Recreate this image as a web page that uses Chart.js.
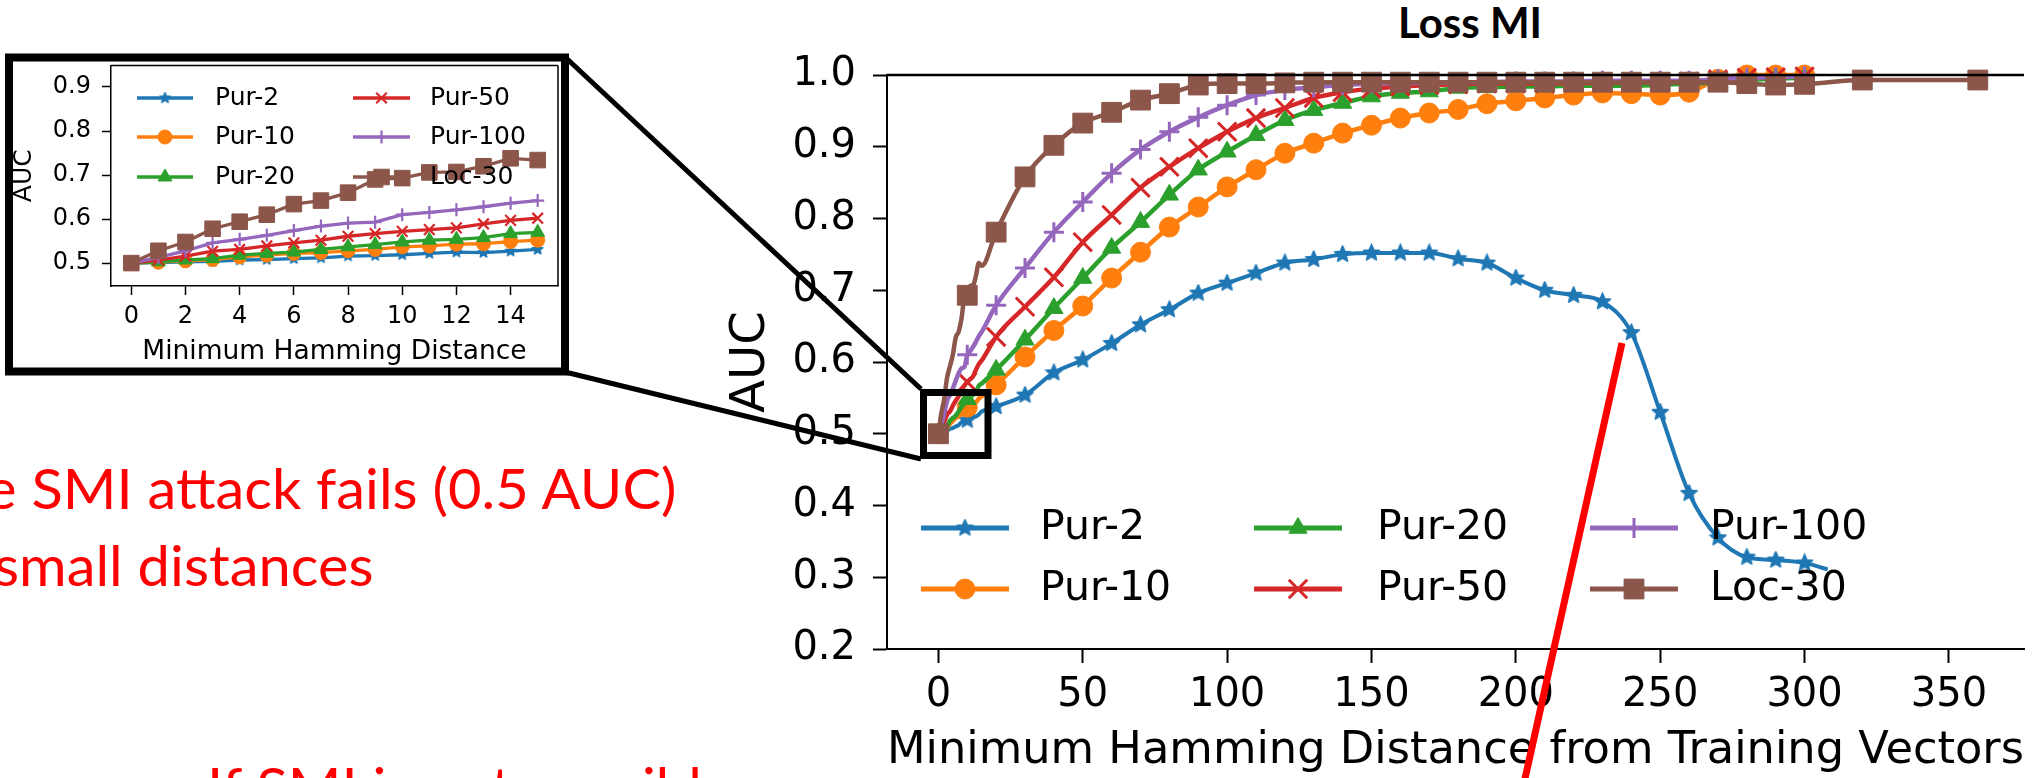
<!DOCTYPE html>
<html lang="en">
   <head>
      <meta charset="UTF-8" />
      <script src="https://cdn.jsdelivr.net/npm/chart.js@4.4.1/dist/chart.umd.min.js"></script>
      <title>Loss MI</title>
      <style>
         body {
            margin: 0;
            width: 2040px;
            height: 778px;
            overflow: hidden;
            background: #fff;
            position: relative;
         }
         canvas,
         svg {
            position: absolute;
         }
         #main-chart {
            left: 700px;
            top: 0;
            width: 1340px;
            height: 778px;
         }
         #inset-chart {
            left: 0;
            top: 40px;
            width: 580px;
            height: 330px;
         }
         .slide-text {
            position: absolute;
            font-family: Lato, sans-serif;
            color: #ff0000;
            font-size: 56px;
            line-height: 1;
            white-space: nowrap;
            transform-origin: 0 0;
         }
         #title {
            position: absolute;
            left: 1370px;
            top: 1px;
            width: 200px;
            text-align: center;
            font-family: Lato, sans-serif;
            font-weight: bold;
            font-size: 42px;
            line-height: 1;
         }
      </style>
   </head>
   <body>
      <div id="title">Loss MI</div>
      <div id="line1" class="slide-text" style="top: 460px">e <span id="fit-ref">SMI attack fails (0.5 AUC)</span></div>
      <div id="line2" class="slide-text" style="top: 537px">small distances</div>
      <div id="line3" class="slide-text" style="top: 759px; left: 207px">If SMI is not possible</div>

      <canvas id="inset-chart" width="580" height="330"></canvas>
      <canvas id="main-chart" width="1340" height="778"></canvas>

      <svg width="2040" height="778" style="left: 0; top: 0">
         <rect x="9" y="57.5" width="556" height="314" fill="none" stroke="#000" stroke-width="8" />
         <line x1="565" y1="57" x2="921" y2="389" stroke="#000" stroke-width="5" />
         <line x1="565" y1="372" x2="921" y2="459" stroke="#000" stroke-width="5" />
         <rect x="923.5" y="392.5" width="64.5" height="63" fill="none" stroke="#000" stroke-width="7" />
         <line x1="1622" y1="343" x2="1518" y2="810" stroke="#ff0000" stroke-width="7" />
      </svg>

      <script>
         // series names / colours (matplotlib tab10)
         const seriesNames = ['Pur-2', 'Pur-10', 'Pur-20', 'Pur-50', 'Pur-100', 'Loc-30'];
         const seriesColors = ['#1f77b4', '#ff7f0e', '#2ca02c', '#d62728', '#9467bd', '#8c564b'];

         // minimum hamming distance 0..15 (inset and start of main plot)
         const nearX = [0, 1, 2, 3, 4, 5, 6, 7, 8, 9, 10, 11, 12, 13, 14, 15];
         const pur2Near = [0.500, 0.501, 0.503, 0.504, 0.507, 0.508, 0.510, 0.512, 0.516, 0.517, 0.519, 0.522, 0.525, 0.524, 0.527, 0.531];
         const pur10Near = [0.500, 0.502, 0.505, 0.508, 0.514, 0.518, 0.522, 0.524, 0.528, 0.531, 0.537, 0.539, 0.543, 0.544, 0.549, 0.552];
         const pur20Near = [0.500, 0.503, 0.507, 0.510, 0.518, 0.522, 0.525, 0.531, 0.537, 0.542, 0.548, 0.552, 0.554, 0.558, 0.567, 0.570];
         const pur50Near = [0.500, 0.507, 0.516, 0.527, 0.531, 0.539, 0.546, 0.552, 0.561, 0.567, 0.572, 0.576, 0.580, 0.589, 0.597, 0.602];
         const pur100Near = [0.500, 0.513, 0.528, 0.546, 0.554, 0.563, 0.574, 0.584, 0.591, 0.593, 0.610, 0.615, 0.621, 0.628, 0.636, 0.642];
         const loc30Near = [0.500, 0.528, 0.548, 0.578, 0.594, 0.610, 0.634, 0.642, 0.660, 0.690, 0.693, 0.706, 0.707, 0.720, 0.738, 0.734];

         // distance 20 and up (main plot)
         const farX = [20, 30, 40, 50, 60, 70, 80, 90, 100, 110, 120, 130, 140, 150, 160, 170, 180, 190, 200, 210, 220, 230, 240, 250, 260, 270, 280, 290, 300];
         const pur2FarX = farX.concat([308]);
         const loc30FarX = farX.concat([320, 360]);
         const pur2Far = [0.538, 0.554, 0.585, 0.603, 0.626, 0.652, 0.673, 0.696, 0.710, 0.724, 0.738, 0.743, 0.750, 0.752, 0.752, 0.752, 0.744, 0.738, 0.717, 0.700, 0.693, 0.684, 0.641, 0.530, 0.417, 0.355, 0.328, 0.324, 0.320, 0.311];
         const pur10Far = [0.568, 0.607, 0.644, 0.678, 0.717, 0.753, 0.788, 0.816, 0.844, 0.868, 0.891, 0.905, 0.919, 0.930, 0.940, 0.947, 0.952, 0.960, 0.964, 0.968, 0.972, 0.975, 0.974, 0.972, 0.976, 0.994, 1.000, 1.000, 1.000];
         const pur20Far = [0.589, 0.631, 0.675, 0.717, 0.759, 0.795, 0.833, 0.868, 0.893, 0.916, 0.937, 0.951, 0.961, 0.970, 0.975, 0.977, 0.982, 0.983, 0.984, 0.984, 0.985, 0.985, 0.985, 0.986, 0.988, 0.990, 0.993, 0.995, 0.996];
         const pur50Far = [0.635, 0.677, 0.718, 0.767, 0.805, 0.843, 0.872, 0.898, 0.921, 0.940, 0.954, 0.968, 0.976, 0.981, 0.984, 0.986, 0.987, 0.988, 0.988, 0.988, 0.989, 0.989, 0.990, 0.990, 0.991, 0.994, 0.996, 0.997, 0.998];
         const pur100Far = [0.679, 0.731, 0.781, 0.823, 0.863, 0.896, 0.921, 0.941, 0.958, 0.972, 0.979, 0.983, 0.986, 0.988, 0.989, 0.989, 0.990, 0.990, 0.991, 0.991, 0.991, 0.992, 0.992, 0.992, 0.992, 0.994, 0.996, 0.997, 0.998];
         const loc30Far = [0.781, 0.858, 0.902, 0.933, 0.948, 0.965, 0.974, 0.986, 0.988, 0.988, 0.989, 0.990, 0.990, 0.990, 0.990, 0.990, 0.990, 0.990, 0.990, 0.990, 0.990, 0.990, 0.990, 0.990, 0.990, 0.990, 0.988, 0.986, 0.987, 0.993, 0.993];

         // tick labels
         const mainXTicks = [0, 50, 100, 150, 200, 250, 300, 350];
         const mainYTicks = [0.2, 0.3, 0.4, 0.5, 0.6, 0.7, 0.8, 0.9, 1.0];
         const insetXTicks = [0, 2, 4, 6, 8, 10, 12, 14];
         const insetYTicks = [0.5, 0.6, 0.7, 0.8, 0.9];

         const nearY = [pur2Near, pur10Near, pur20Near, pur50Near, pur100Near, loc30Near];
         const mainXs = [pur2FarX, farX, farX, farX, farX, loc30FarX].map(f => nearX.concat(f));
         const mainYs = [
            pur2Near.concat(pur2Far),
            pur10Near.concat(pur10Far),
            pur20Near.concat(pur20Far),
            pur50Near.concat(pur50Far),
            pur100Near.concat(pur100Far),
            loc30Near.concat(loc30Far),
         ];

         // filled 5-point star like matplotlib '*'
         function makeStar(size, color) {
            const c = document.createElement('canvas');
            c.width = size;
            c.height = size;
            const g = c.getContext('2d');
            const r = size / 2 - 1;
            const ri = r * 0.45;
            g.beginPath();
            for (let i = 0; i < 10; i++) {
               const rr = i % 2 ? ri : r;
               const a = -Math.PI / 2 + (i * Math.PI) / 5;
               g.lineTo(size / 2 + rr * Math.cos(a), size / 2 + rr * Math.sin(a));
            }
            g.closePath();
            g.fillStyle = color;
            g.fill();
            g.lineWidth = 1.5;
            g.lineJoin = 'round';
            g.strokeStyle = color;
            g.stroke();
            return c;
         }

         const mainMarks = [
            { style: makeStar(19, seriesColors[0]), r: 8, bw: 0, lw: 4 },
            { style: 'circle', r: 10, bw: 1, lw: 4.5 },
            { style: 'triangle', r: 10.5, bw: 1, lw: 4.5 },
            { style: 'crossRot', r: 13, bw: 3, lw: 4.5 },
            { style: 'cross', r: 10, bw: 3, lw: 4.5 },
            { style: 'rect', r: 14, bw: 1, lw: 4.5 },
         ];
         const insetMarks = [
            { style: makeStar(13, seriesColors[0]), r: 6, bw: 0, lw: 3.3 },
            { style: 'circle', r: 7, bw: 1, lw: 3.3 },
            { style: 'triangle', r: 8, bw: 1, lw: 3.3 },
            { style: 'crossRot', r: 7.5, bw: 2.2, lw: 3.3 },
            { style: 'cross', r: 6.5, bw: 2.2, lw: 3.3 },
            { style: 'rect', r: 11, bw: 1, lw: 3.3 },
         ];

         function buildDatasets(xs, ys, marks, every, smooth) {
            return seriesNames.map((name, i) => ({
               label: name,
               data: xs[i].map((x, j) => ({ x: x, y: ys[i][j] })),
               borderColor: seriesColors[i],
               backgroundColor: seriesColors[i],
               pointBackgroundColor: seriesColors[i],
               pointBorderColor: seriesColors[i],
               borderWidth: marks[i].lw,
               borderJoinStyle: 'round',
               pointStyle: marks[i].style,
               pointRadius: every
                  ? c => (c.raw && c.raw.x % every === 0 ? marks[i].r : 0)
                  : marks[i].r,
               pointBorderWidth: marks[i].bw,
               legendRadius: marks[i].r,
               cubicInterpolationMode: smooth ? 'monotone' : 'default',
               tension: 0,
               fill: false,
               clip: false,
               order: seriesNames.length - i,
            }));
         }

         // top / right axis lines like matplotlib spines
         const spinePlugin = {
            id: 'spines',
            afterDatasetsDraw(chart, args, opts) {
               const { ctx, chartArea: a } = chart;
               ctx.save();
               ctx.strokeStyle = '#000';
               ctx.lineWidth = opts.width;
               ctx.beginPath();
               ctx.moveTo(a.left, a.top);
               ctx.lineTo(a.right, a.top);
               if (opts.right) {
                  ctx.moveTo(a.right, a.top);
                  ctx.lineTo(a.right, a.bottom);
               }
               ctx.stroke();
               ctx.restore();
            },
         };

         // column-major legend inside the plot, no frame
         const legendPlugin = {
            id: 'boxLegend',
            afterDatasetsDraw(chart, args, opts) {
               const ctx = chart.ctx;
               ctx.save();
               ctx.font = opts.font;
               ctx.textBaseline = 'middle';
               opts.items.forEach(item => {
                  const ds = chart.data.datasets[item.i];
                  ctx.strokeStyle = ds.borderColor;
                  ctx.lineWidth = opts.lineWidth;
                  ctx.beginPath();
                  ctx.moveTo(item.x0, item.y);
                  ctx.lineTo(item.x1, item.y);
                  ctx.stroke();
                  ctx.fillStyle = ds.pointBackgroundColor;
                  ctx.strokeStyle = ds.pointBorderColor;
                  ctx.lineWidth = ds.pointBorderWidth;
                  Chart.helpers.drawPoint(
                     ctx,
                     { pointStyle: ds.pointStyle, radius: ds.legendRadius, rotation: 0, borderWidth: ds.pointBorderWidth },
                     (item.x0 + item.x1) / 2,
                     item.y
                  );
                  ctx.fillStyle = '#000';
                  ctx.fillText(ds.label, item.tx, item.y);
               });
               ctx.restore();
            },
         };

         function axis(min, max, tickVals, fmt, size, tickLen, pad, fixed, horizontal, title) {
            return {
               type: 'linear',
               min: min,
               max: max,
               afterFit: s => {
                  if (horizontal) s.height = fixed;
                  else s.width = fixed;
               },
               afterBuildTicks: s => {
                  s.ticks = tickVals.map(v => ({ value: v }));
               },
               ticks: {
                  autoSkip: false,
                  maxRotation: 0,
                  padding: pad,
                  color: '#000',
                  font: { family: 'DejaVu Sans', size: size },
                  callback: fmt,
               },
               grid: {
                  drawOnChartArea: false,
                  tickLength: tickLen,
                  tickWidth: title.lineW,
                  tickColor: '#000',
               },
               border: { color: '#000', width: title.lineW },
               title: {
                  display: true,
                  text: title.text,
                  color: '#000',
                  font: { family: 'DejaVu Sans', size: title.size },
                  padding: title.padding,
               },
            };
         }

         const fmt1 = v => v.toFixed(1);
         const fmt0 = v => String(v);

         new Chart(document.getElementById('main-chart'), {
            type: 'line',
            data: { datasets: buildDatasets(mainXs, mainYs, mainMarks, 10, true) },
            options: {
               responsive: false,
               animation: false,
               devicePixelRatio: 1,
               layout: { padding: { top: 75, right: 0, left: 0, bottom: 0 } },
               plugins: {
                  legend: { display: false },
                  tooltip: { enabled: false },
                  spines: { width: 2.5, right: false },
                  boxLegend: {
                     font: '41px "DejaVu Sans"',
                     lineWidth: 5,
                     items: [
                        { i: 0, x0: 221, x1: 309, tx: 340, y: 528 },
                        { i: 1, x0: 221, x1: 309, tx: 340, y: 589 },
                        { i: 2, x0: 554, x1: 642, tx: 677, y: 528 },
                        { i: 3, x0: 554, x1: 642, tx: 677, y: 589 },
                        { i: 4, x0: 890, x1: 978, tx: 1010, y: 528 },
                        { i: 5, x0: 890, x1: 978, tx: 1010, y: 589 },
                     ],
                  },
               },
               scales: {
                  x: axis(-17.8, 376, mainXTicks, fmt0, 40, 14, 9, 129, true, {
                     text: 'Minimum Hamming Distance from Training Vectors',
                     size: 45,
                     padding: 0,
                     lineW: 2,
                  }),
                  y: axis(0.2, 1.0, mainYTicks, fmt1, 40, 14, 17, 187, false, {
                     text: 'AUC',
                     size: 48,
                     padding: { top: 23, bottom: 0 },
                     lineW: 2,
                  }),
               },
            },
            plugins: [spinePlugin, legendPlugin],
         });

         new Chart(document.getElementById('inset-chart'), {
            type: 'line',
            data: { datasets: buildDatasets(nearY.map(() => nearX), nearY, insetMarks, 0, false) },
            options: {
               responsive: false,
               animation: false,
               devicePixelRatio: 1,
               layout: { padding: { top: 23, right: 22, left: 0, bottom: 0 } },
               plugins: {
                  legend: { display: false },
                  tooltip: { enabled: false },
                  spines: { width: 1.5, right: true },
                  boxLegend: {
                     font: '25px "DejaVu Sans"',
                     lineWidth: 3.5,
                     items: [
                        { i: 0, x0: 137, x1: 193, tx: 215, y: 58 },
                        { i: 1, x0: 137, x1: 193, tx: 215, y: 97 },
                        { i: 2, x0: 137, x1: 193, tx: 215, y: 137 },
                        { i: 3, x0: 353, x1: 410, tx: 430, y: 58 },
                        { i: 4, x0: 353, x1: 410, tx: 430, y: 97 },
                        { i: 5, x0: 353, x1: 410, tx: 430, y: 137 },
                     ],
                  },
               },
               scales: {
                  x: axis(-0.75, 15.75, insetXTicks, fmt0, 24, 9, 7, 84, true, {
                     text: 'Minimum Hamming Distance',
                     size: 26.5,
                     padding: { top: 0, bottom: 2 },
                     lineW: 1.5,
                  }),
                  y: axis(0.448, 0.949, insetYTicks, fmt1, 24, 9, 11, 111, false, {
                     text: 'AUC',
                     size: 25,
                     padding: { top: 9, bottom: 0 },
                     lineW: 1.5,
                  }),
               },
            },
            plugins: [spinePlugin, legendPlugin],
         });

         // squeeze the slide text so it spans the same width as in the slide
         const fitRef = document.getElementById('fit-ref');
         const line1 = document.getElementById('line1');
         const line2 = document.getElementById('line2');
         const line3 = document.getElementById('line3');
         const k = 645 / fitRef.offsetWidth;
         [line1, line2, line3].forEach(el => {
            el.style.transform = 'scaleX(' + k + ')';
         });
         line1.style.left = 31 - k * fitRef.offsetLeft + 'px';
         line2.style.left = 373 - k * line2.offsetWidth + 'px';
      </script>
   </body>
</html>
